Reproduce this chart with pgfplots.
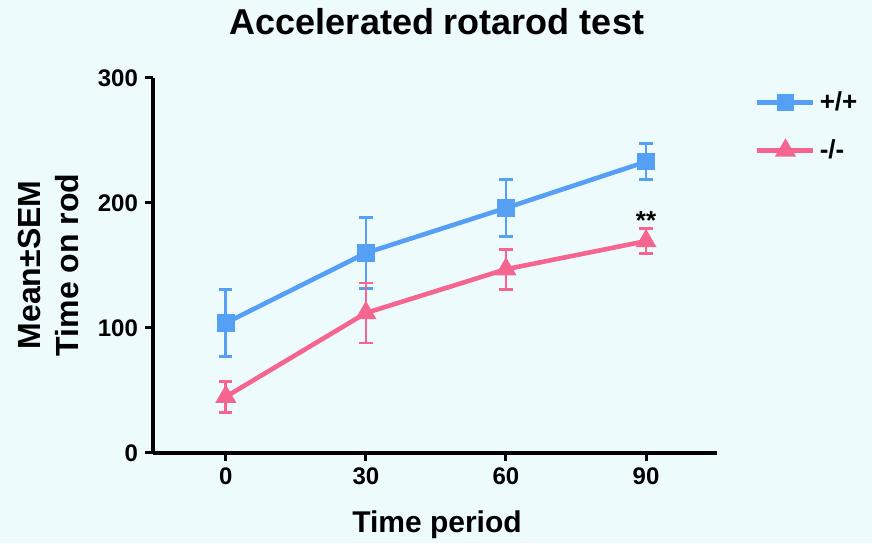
\documentclass[border=0pt]{standalone}
\usepackage{fontspec}
\setmainfont{Liberation Sans}
\usepackage{pgfplots}
\pgfplotsset{compat=1.18}
\definecolor{cWT}{HTML}{55A0F5}
\definecolor{cKO}{HTML}{F4668F}
\definecolor{bg}{HTML}{EEFBFC}

% 1 px of the reference = 0.5pt
\begin{document}
\begin{tikzpicture}
\fill[bg] (0pt,0pt) rectangle (436pt,271.5pt);
\begin{axis}[
  at={(76.5pt,45pt)}, anchor=south west,
  scale only axis, width=282pt, height=187.5pt,
  xmin=-15.6, xmax=105.2, ymin=0, ymax=300,
  axis x line*=bottom, axis y line*=left,
  axis line style={line width=2pt},
  xtick={0,30,60,90}, ytick={0,100,200,300},
  tick align=outside, major tick length=4pt,
  tick style={line width=1.5pt, black},
  minor tick num=0,
  /pgf/number format/assume math mode=true,
  tick label style={font=\bfseries\fontsize{12}{13}\selectfont},
  clip=false,
  legend style={at={(axis description cs:1.067,0.975)}, anchor=north west,
    draw=none, fill=none, inner sep=0pt, row sep=9pt,
    font=\bfseries\fontsize{13}{14}\selectfont,
    /tikz/every even column/.append style={column sep=3.5pt}},
  legend cell align=left,
  legend image code/.code={\draw[mark repeat=2,mark phase=2,#1] plot coordinates {(0pt,0pt) (14pt,0pt) (28pt,0pt)};},
]
\addplot[cWT, line width=2.3pt, mark=square*, mark size=3.2pt,
  error bars/.cd, y dir=both, y explicit,
  error bar style={line width=1.4pt, cWT},
  error mark options={rotate=90, mark size=3.3pt, line width=1.4pt, cWT}]
  coordinates {(0,104) +- (0,27) (30,160) +- (0,28.5) (60,196) +- (0,22.5) (90,233) +- (0,14.5)};
\addlegendentry{+/+}
\addplot[cKO, line width=2.3pt, mark=triangle*, mark size=3.8pt,
  error bars/.cd, y dir=both, y explicit,
  error bar style={line width=1.4pt, cKO},
  error mark options={rotate=90, mark size=3.3pt, line width=1.4pt, cKO}]
  coordinates {(0,45) +- (0,12.5) (30,112) +- (0,24) (60,147) +- (0,16) (90,169.5) +- (0,10)};
\addlegendentry{-/-}
\node[font=\bfseries\fontsize{13}{14}\selectfont, anchor=south, inner sep=1pt] at (axis cs:90,177) {**};
\end{axis}
\node[font=\bfseries\fontsize{18}{21}\selectfont] at (218.5pt,260.5pt) {Accelerated rotarod test};
\node[font=\bfseries\fontsize{15}{17}\selectfont] at (218.5pt,9pt) {Time period};
\node[font=\bfseries\fontsize{16}{19}\selectfont, rotate=90, align=center] at (24pt,139pt) {Mean±SEM\\Time on rod};
\end{tikzpicture}
\end{document}
